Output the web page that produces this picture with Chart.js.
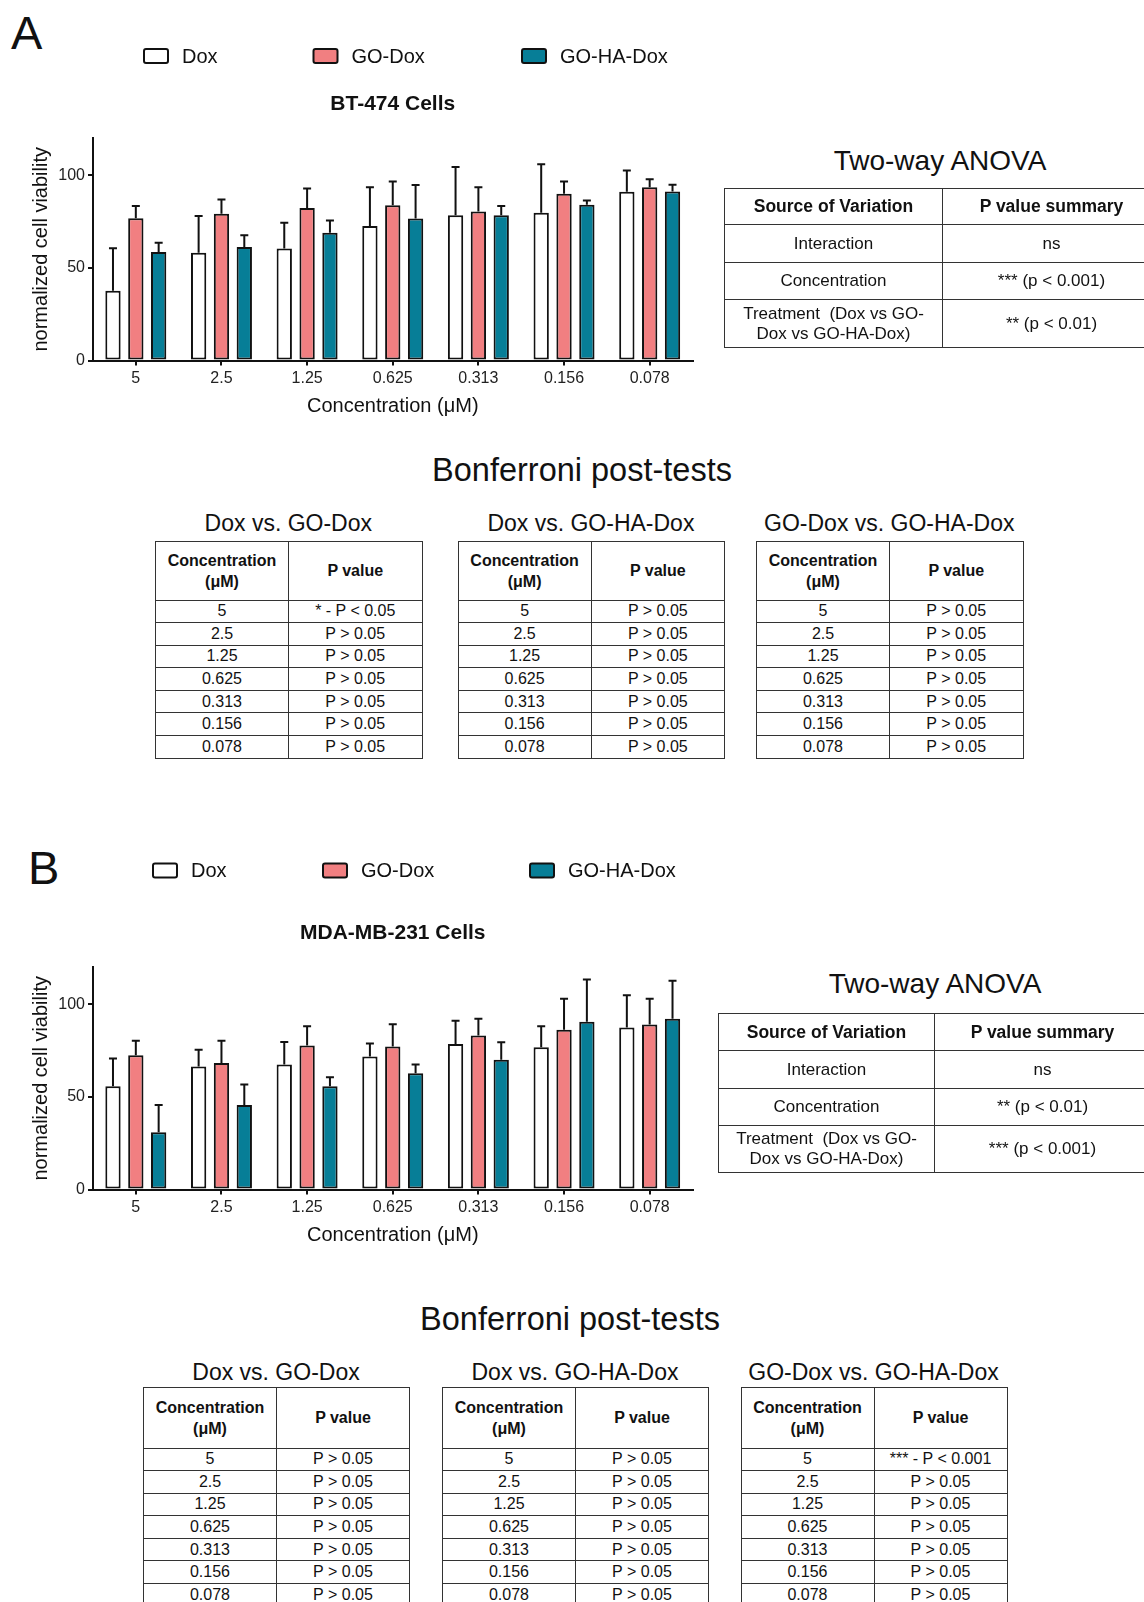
<!DOCTYPE html>
<html>
<head>
<meta charset="utf-8">
<script src="https://cdn.jsdelivr.net/npm/chart.js@4.4.0/dist/chart.umd.min.js"></script>
<style>
  html, body { margin: 0; padding: 0; background: #fff; }
  body { width: 1144px; height: 1602px; position: relative; overflow: hidden;
         font-family: "Liberation Sans", Arial, sans-serif; color: #111; }
  .txt { position: absolute; white-space: nowrap; line-height: 1; }
  .mid { transform: translate(-50%, -50%); }
  .panel { position: absolute; left: 0; }
  table.t { position: absolute; border-collapse: collapse; table-layout: fixed; }
  table.t td { border: 1.5px solid #333; text-align: center; padding: 0; font-size: 16px; line-height: 1; }
  table.t td.h { font-weight: bold; line-height: 21px; }
  table.anova td { font-size: 17px; line-height: 20px; }
  table.anova td.h { font-size: 17.5px; }
</style>
</head>
<body>

<div class="txt" style="left:11px;top:9px;font-size:47px;">A</div>
<div class="txt" style="left:28px;top:844px;font-size:47px;">B</div>

<div class="panel" style="top:0px;"><canvas id="chartA" width="786" height="420"></canvas></div>
<div class="panel" style="top:829.4px;"><canvas id="chartB" width="786" height="420"></canvas></div>

<div class="txt mid" style="left:940px;top:161px;font-size:28px;">Two-way ANOVA</div>
<div class="txt mid" style="left:935px;top:984px;font-size:28px;">Two-way ANOVA</div>

<div class="txt mid" style="left:582px;top:470px;font-size:32.5px;">Bonferroni post-tests</div>
<div class="txt mid" style="left:570px;top:1319px;font-size:32.5px;">Bonferroni post-tests</div>

<div id="tables"></div>

<script>
// categories and series
const concentrations = ["5", "2.5", "1.25", "0.625", "0.313", "0.156", "0.078"];
const seriesNames = ["Dox", "GO-Dox", "GO-HA-Dox"];
const yTicks = [0, 50, 100];

// BT-474 cells: mean viability and upper error
const bt474Dox      = [37.6, 58.1, 60.4, 72.5, 78.4, 79.7, 91.0];
const bt474GoDox    = [76.8, 79.1, 82.2, 83.8, 80.4, 89.9, 93.5];
const bt474GoHaDox  = [58.6, 61.2, 68.9, 76.6, 78.4, 84.0, 91.2];
const bt474DoxErr     = [23.0, 19.8, 13.9, 21.0, 25.9, 26.1, 11.5];
const bt474GoDoxErr   = [6.5, 7.8, 10.6, 12.8, 13.1, 6.7, 4.3];
const bt474GoHaDoxErr = [4.9, 6.4, 6.6, 18.0, 4.9, 2.3, 3.6];

// MDA-MB-231 cells
const mdaDox      = [55.7, 66.4, 67.5, 71.8, 78.5, 76.7, 87.4];
const mdaGoDox    = [72.4, 68.2, 77.7, 77.2, 83.1, 86.2, 89.0];
const mdaGoHaDox  = [30.9, 45.6, 55.7, 62.7, 70.0, 90.5, 92.1];
const mdaDoxErr     = [15.0, 9.0, 12.1, 7.0, 12.5, 11.3, 17.4];
const mdaGoDoxErr   = [7.9, 12.1, 10.3, 12.0, 9.0, 16.7, 13.9];
const mdaGoHaDoxErr = [14.7, 11.1, 4.8, 4.8, 9.4, 22.8, 20.5];

// two-way ANOVA summaries
const anovaSources = ["Interaction", "Concentration", "Treatment&nbsp; (Dox vs GO-<br>Dox vs GO-HA-Dox)"];
const bt474Anova = ["ns", "*** (p &lt; 0.001)", "** (p &lt; 0.01)"];
const mdaAnova   = ["ns", "** (p &lt; 0.01)", "*** (p &lt; 0.001)"];

// Bonferroni post-tests
const comparisons = ["Dox vs. GO-Dox", "Dox vs. GO-HA-Dox", "GO-Dox vs. GO-HA-Dox"];
const ns = "P &gt; 0.05";
const bt474Bonf = [
  ["* - P &lt; 0.05", ns, ns, ns, ns, ns, ns],
  [ns, ns, ns, ns, ns, ns, ns],
  [ns, ns, ns, ns, ns, ns, ns]
];
const mdaBonf = [
  [ns, ns, ns, ns, ns, ns, ns],
  [ns, ns, ns, ns, ns, ns, ns],
  ["*** - P &lt; 0.001", ns, ns, ns, ns, ns, ns]
];

const fills = ["#ffffff", "#f17f81", "#077e97"];
const family = '"Liberation Sans", Arial, sans-serif';
Chart.defaults.font.family = family;
Chart.defaults.color = "#111";

// legend boxes + panel title
const panelHead = {
  id: "panelHead",
  afterDraw(chart, args, opts) {
    const { ctx, chartArea } = chart;
    ctx.save();
    ctx.fillStyle = "#111";
    ctx.textBaseline = "middle";
    ctx.textAlign = "center";
    ctx.font = "bold 21px " + family;
    ctx.fillText(opts.title, (chartArea.left + chartArea.right) / 2, chartArea.top - 34);
    ctx.textAlign = "left";
    ctx.font = "20px " + family;
    chart.data.datasets.forEach((ds, i) => {
      const x = opts.legendX[i], y = opts.legendY;
      ctx.fillStyle = ds.backgroundColor;
      ctx.strokeStyle = "#111";
      ctx.lineWidth = 2;
      ctx.beginPath();
      ctx.roundRect(x, y - 7, 24, 14, 2);
      ctx.fill();
      ctx.stroke();
      ctx.fillStyle = "#111";
      ctx.fillText(ds.label, x + 38, y + 1);
    });
    ctx.restore();
  }
};

// upper error bars with cap
const errorBars = {
  id: "errorBars",
  afterDatasetsDraw(chart) {
    const { ctx } = chart;
    const y = chart.scales.y;
    ctx.save();
    ctx.strokeStyle = "#111";
    ctx.lineWidth = 2;
    chart.data.datasets.forEach((ds, i) => {
      chart.getDatasetMeta(i).data.forEach((bar, j) => {
        const top = y.getPixelForValue(ds.data[j] + ds.errors[j]);
        ctx.beginPath();
        ctx.moveTo(bar.x, bar.y);
        ctx.lineTo(bar.x, top);
        ctx.moveTo(bar.x - 4, top);
        ctx.lineTo(bar.x + 4, top);
        ctx.stroke();
      });
    });
    ctx.restore();
  }
};

function viabilityChart(id, title, values, errors, legendY, legendX) {
  return new Chart(document.getElementById(id), {
    type: "bar",
    data: {
      labels: concentrations,
      datasets: seriesNames.map((name, i) => ({
        label: name,
        data: values[i],
        errors: errors[i],
        backgroundColor: fills[i],
        borderColor: "#111",
        borderWidth: 2,
        borderSkipped: false,
        categoryPercentage: 0.8,
        barPercentage: 0.67
      }))
    },
    options: {
      responsive: false,
      animation: false,
      layout: { padding: { top: 138, left: 0, right: 93.5, bottom: 0 } },
      plugins: {
        legend: { display: false },
        tooltip: { enabled: false },
        panelHead: { title: title, legendY: legendY, legendX: legendX }
      },
      scales: {
        x: {
          grid: { drawOnChartArea: false, tickLength: 5, offset: false, color: "#111", lineWidth: 2 },
          border: { color: "#111", width: 2 },
          ticks: { font: { size: 16 }, color: "#222", padding: 3, maxRotation: 0, autoSkip: false },
          title: { display: true, text: "Concentration (μM)", font: { size: 20 }, color: "#111",
                   padding: { top: 0, bottom: 1.5 } },
          afterFit: s => { s.height = 59.4; }
        },
        y: {
          min: 0,
          max: 120,
          afterBuildTicks: s => { s.ticks = yTicks.map(v => ({ value: v })); },
          grid: { drawOnChartArea: false, tickLength: 5, color: "#111", lineWidth: 2 },
          border: { color: "#111", width: 2 },
          ticks: { font: { size: 16 }, color: "#222", padding: 3 },
          title: { display: true, text: "normalized cell viability", font: { size: 20 }, color: "#111",
                   padding: { top: 29.7, bottom: 0 } },
          afterFit: s => { s.width = 93; }
        }
      }
    },
    plugins: [panelHead, errorBars]
  });
}

viabilityChart("chartA", "BT-474 Cells",
  [bt474Dox, bt474GoDox, bt474GoHaDox],
  [bt474DoxErr, bt474GoDoxErr, bt474GoHaDoxErr],
  56, [144, 313.5, 522]);

viabilityChart("chartB", "MDA-MB-231 Cells",
  [mdaDox, mdaGoDox, mdaGoHaDox],
  [mdaDoxErr, mdaGoDoxErr, mdaGoHaDoxErr],
  41.6, [153, 323, 530]);

// tables
const holder = document.getElementById("tables");

function addText(text, cx, cy, size) {
  const d = document.createElement("div");
  d.className = "txt mid";
  d.style.left = cx + "px";
  d.style.top = cy + "px";
  d.style.fontSize = size + "px";
  d.innerHTML = text;
  holder.appendChild(d);
}

function addTable(cls, left, top, colW, head, rows, headH, rowH) {
  const t = document.createElement("table");
  t.className = "t " + cls;
  t.style.left = left + "px";
  t.style.top = top + "px";
  t.style.width = (colW[0] + colW[1]) + "px";
  let html = "<colgroup><col style='width:" + colW[0] + "px'><col style='width:" + colW[1] + "px'></colgroup>";
  html += "<tr style='height:" + headH + "px'><td class='h'>" + head[0] + "</td><td class='h'>" + head[1] + "</td></tr>";
  rows.forEach((r, k) => {
    const h = Array.isArray(rowH) ? rowH[k] : rowH;
    html += "<tr style='height:" + h + "px'><td>" + r[0] + "</td><td>" + r[1] + "</td></tr>";
  });
  t.innerHTML = html;
  holder.appendChild(t);
}

// ANOVA tables
addTable("anova", 724, 188, [218, 218], ["Source of Variation", "P value summary"],
  anovaSources.map((s, k) => [s, bt474Anova[k]]), 36, [38, 37, 48]);
addTable("anova", 718, 1013, [216, 216], ["Source of Variation", "P value summary"],
  anovaSources.map((s, k) => [s, mdaAnova[k]]), 37, [38, 37, 47]);

// Bonferroni tables
const bonfHead = ["Concentration<br>(μM)", "P value"];
const bt474Left = [155, 457.6, 756];
const mdaLeft = [143, 442, 740.5];
comparisons.forEach((name, i) => {
  addText(name, bt474Left[i] + 133.3, 523, 23);
  addTable("bonf", bt474Left[i], 541, [133, 133.5], bonfHead,
    concentrations.map((c, k) => [c, bt474Bonf[i][k]]), 58.5, 22.6);
  addText(name, mdaLeft[i] + 133, 1372, 23);
  addTable("bonf", mdaLeft[i], 1387, [133, 133], bonfHead,
    concentrations.map((c, k) => [c, mdaBonf[i][k]]), 60.5, 22.6);
});
</script>
</body>
</html>
